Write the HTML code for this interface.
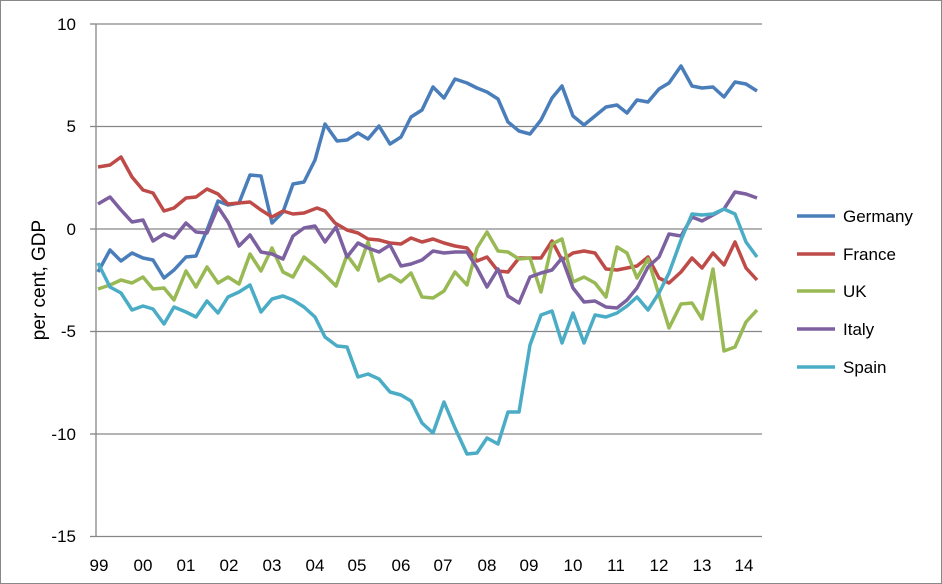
<!DOCTYPE html>
<html><head><meta charset="utf-8"><style>
body{margin:0;background:#fff;}
svg{display:block;font-family:"Liberation Sans",sans-serif;}
</style></head><body>
<svg width="942" height="584" viewBox="0 0 942 584" xmlns="http://www.w3.org/2000/svg">
<rect x="0.5" y="0.5" width="941" height="583" fill="#fff" stroke="#888"/>
<g stroke="#868686" stroke-width="1.3">
<line x1="96" y1="24" x2="762" y2="24"/>
<line x1="96" y1="126.5" x2="762" y2="126.5"/>
<line x1="96" y1="229" x2="762" y2="229"/>
<line x1="96" y1="331.5" x2="762" y2="331.5"/>
<line x1="96" y1="434" x2="762" y2="434"/>
<line x1="96" y1="536.5" x2="762" y2="536.5"/>
<line x1="96" y1="24" x2="96" y2="536.5"/>
<line x1="90" y1="24" x2="96" y2="24"/><line x1="90" y1="126.5" x2="96" y2="126.5"/><line x1="90" y1="229" x2="96" y2="229"/><line x1="90" y1="331.5" x2="96" y2="331.5"/><line x1="90" y1="434" x2="96" y2="434"/><line x1="90" y1="536.5" x2="96" y2="536.5"/>
</g>
<g font-size="17" fill="#000" text-anchor="end">
<text x="76" y="30">10</text><text x="76" y="132">5</text><text x="76" y="235">0</text>
<text x="76" y="337">-5</text><text x="76" y="440">-10</text><text x="76" y="542">-15</text>
</g>
<g font-size="17" fill="#000" text-anchor="middle">
<text x="99" y="571">99</text><text x="143" y="571">00</text><text x="186" y="571">01</text><text x="229" y="571">02</text><text x="272" y="571">03</text><text x="315" y="571">04</text><text x="357" y="571">05</text><text x="401" y="571">06</text><text x="443" y="571">07</text><text x="487" y="571">08</text><text x="529" y="571">09</text><text x="573" y="571">10</text><text x="616" y="571">11</text><text x="659" y="571">12</text><text x="702" y="571">13</text><text x="744" y="571">14</text>
</g>
<text transform="translate(45,280) rotate(-90)" font-size="19" text-anchor="middle">per cent, GDP</text>
<g fill="none" stroke-width="3.5" stroke-linejoin="round">
<polyline stroke="#4a7ebb" points="98,272 110,250 121,261 132,253 143,258 153,260 164,278 174,270 186,257 196,256 207,230 218,201 228,205 239,203 250,175 261,176 272,223 283,212 293,184 304,182 315,160 325,124 337,141 347,140 358,133 368,139 379,126 390,144 401,137 411,117 422,110 433,87 444,98 455,79 467,83 477,88 487,92 498,99 508,122 519,131 530,134 541,120 552,98 562,86 573,116 584,125 595,116 606,107 617,105 627,113 637,100 648,102 659,89 669,83 681,66 692,86 702,88 713,87 724,97 735,82 746,84 757,91"/>
<polyline stroke="#be4b48" points="98,167 110,165 121,157 132,177 143,190 153,193 164,211 174,208 186,198 196,197 207,189 218,194 228,204 239,203 250,202 261,210 272,217 283,211 293,214 304,213 317,208 325,211 335,223 347,230 358,233 368,239 379,240 390,243 401,244 411,238 422,242 433,239 444,243 455,246 467,248 477,261 487,257 498,271 508,272 519,258 530,258 541,258 552,241 562,260 573,253 584,251 595,253 606,269 617,270 627,268 637,266 648,257 659,278 669,283 681,272 692,258 702,268 713,253 724,265 735,242 746,268 757,280"/>
<polyline stroke="#98b954" points="98,289 110,285 121,280 132,283 143,277 153,289 164,288 174,300 186,271 196,287 207,267 218,283 228,277 239,284 250,254 261,271 272,248 283,272 293,277 304,257 315,266 323,273 336,286 347,255 358,270 368,242 379,281 390,275 401,282 411,273 422,297 433,298 444,291 455,272 467,285 477,248 487,232 498,251 508,252 519,259 530,258 541,292 552,244 562,239 573,282 584,277 595,283 606,297 617,247 627,253 637,278 648,259 659,295 669,328 681,304 692,303 702,319 713,269 724,351 735,347 746,322 757,310"/>
<polyline stroke="#7d60a0" points="98,204 110,197 121,210 132,222 143,220 153,241 164,234 174,238 186,223 196,232 207,233 218,207 228,222 239,246 250,235 261,252 272,254 283,259 293,236 304,228 315,226 325,242 336,227 347,257 358,243 368,248 379,252 390,245 401,266 411,264 422,260 433,251 444,253 455,252 467,252 477,268 487,287 498,269 508,296 519,303 530,277 541,273 552,270 562,258 573,288 584,302 595,301 606,307 617,308 627,300 637,288 648,267 659,257 669,234 681,236 692,217 702,221 713,215 724,209 735,192 746,194 757,198"/>
<polyline stroke="#4bacc6" points="98,263 110,287 121,293 132,310 143,306 153,309 164,324 174,307 186,312 196,317 207,301 218,313 228,297 239,292 250,285 261,312 272,299 283,296 293,300 304,307 315,317 325,337 337,346 347,347 358,377 368,374 379,379 390,392 401,395 411,401 422,423 433,433 444,402 455,428 467,454 477,453 487,438 498,444 508,412 519,412 530,345 541,315 552,311 562,343 573,313 584,343 595,315 606,317 617,313 627,306 637,297 648,310 659,293 669,273 681,240 692,214 702,215 713,214 724,209 735,214 746,242 757,257"/>
</g>
<g stroke-width="3.5">
<line x1="797" y1="216" x2="835" y2="216" stroke="#4a7ebb"/>
<line x1="797" y1="254" x2="835" y2="254" stroke="#be4b48"/>
<line x1="797" y1="291" x2="835" y2="291" stroke="#98b954"/>
<line x1="797" y1="329" x2="835" y2="329" stroke="#7d60a0"/>
<line x1="797" y1="367" x2="835" y2="367" stroke="#4bacc6"/>
</g>
<g font-size="17">
<text x="843" y="222">Germany</text><text x="843" y="260">France</text><text x="843" y="297">UK</text><text x="843" y="335">Italy</text><text x="843" y="373">Spain</text>
</g>
</svg>
</body></html>
